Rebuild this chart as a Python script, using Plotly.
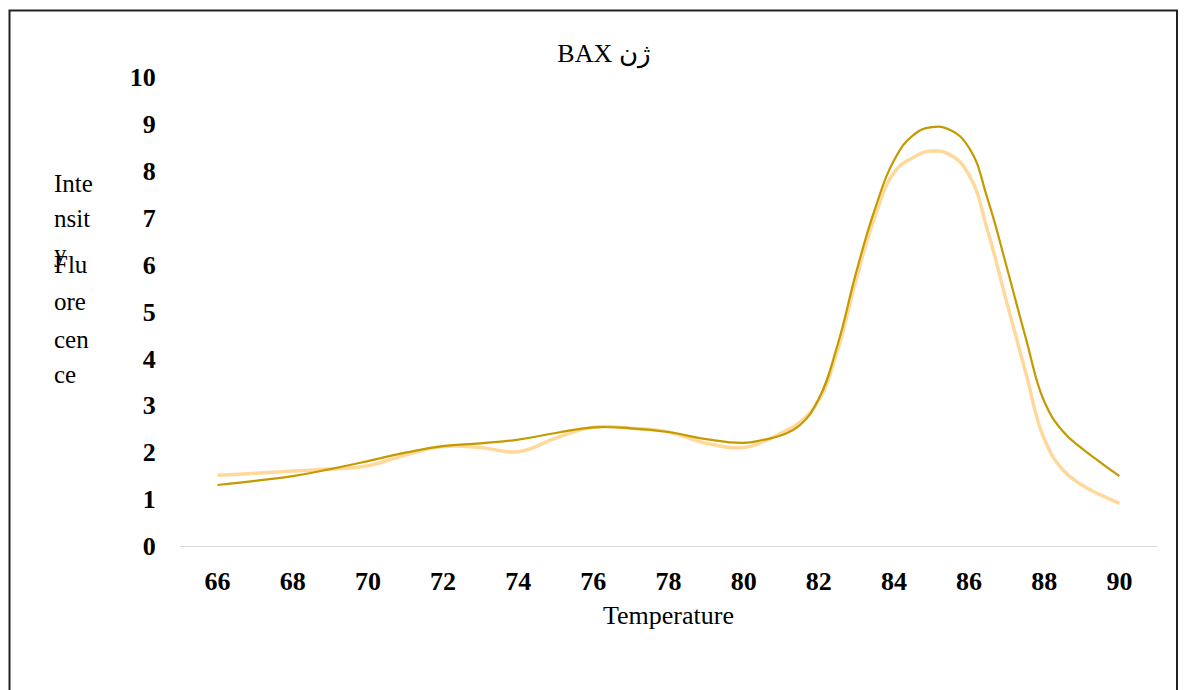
import plotly.graph_objects as go

# ---- data ----
temperature = [66, 67, 68, 69, 70, 71, 72, 73, 74, 75, 76, 77, 78, 79, 80,
               80.5, 81, 81.5, 82, 82.5, 83, 83.5, 84, 84.5, 85, 85.5, 86,
               86.5, 87, 87.5, 88, 88.5, 89, 89.5, 90]
series_dark = [1.30, 1.39, 1.49, 1.64, 1.81, 1.99, 2.13, 2.19, 2.27, 2.41, 2.53,
               2.51, 2.43, 2.28, 2.20,
               2.26, 2.36, 2.58, 3.14, 4.29, 5.85, 7.20, 8.22, 8.75, 8.93, 8.87, 8.49,
               7.38, 5.95, 4.46, 3.08, 2.44, 2.08, 1.78, 1.49]
series_light = [1.51, 1.55, 1.60, 1.64, 1.71, 1.94, 2.12, 2.10, 2.01, 2.30, 2.53,
                2.51, 2.43, 2.19, 2.10,
                2.22, 2.41, 2.64, 3.11, 4.18, 5.70, 7.04, 7.96, 8.28, 8.42, 8.34, 7.91,
                6.70, 5.20, 3.72, 2.28, 1.62, 1.30, 1.09, 0.91]
x_ticks = [66, 68, 70, 72, 74, 76, 78, 80, 82, 84, 86, 88, 90]
y_ticks = [0, 1, 2, 3, 4, 5, 6, 7, 8, 9, 10]
title_text = "BAX ژن"
x_title = "Temperature"
y_title_lines_a = ["Inte", "nsit", "y"]
y_title_lines_b = ["Flu", "ore", "cen", "ce"]

W, H = 1186, 690
ML, MR, MT, MB = 180, 29, 77, 144
PW, PH = W - ML - MR, H - MT - MB

def px(xp):
    return (xp - ML) / PW

def py(yp):
    return (H - MB - yp) / PH

SERIF = "Liberation Serif, Times New Roman, serif"

fig = go.Figure()
fig.add_trace(go.Scatter(x=temperature, y=series_light, mode="lines",
                         line=dict(color="#FFD89C", width=3.5, shape="spline",
                                   smoothing=1.3),
                         showlegend=False))
fig.add_trace(go.Scatter(x=temperature, y=series_dark, mode="lines",
                         line=dict(color="#C49A00", width=2.2, shape="spline",
                                   smoothing=1.3),
                         showlegend=False))

fig.update_layout(
    width=W, height=H,
    margin=dict(l=ML, r=MR, t=MT, b=MB),
    paper_bgcolor="white", plot_bgcolor="white",
    font=dict(family=SERIF, size=26, color="black"),
    title=dict(text=title_text, x=604 / W, xanchor="center", xref="container",
               y=1 - 53 / H, yanchor="middle", yref="container",
               font=dict(family=SERIF, size=26, color="black")),
    xaxis=dict(range=[65, 91], tickvals=x_ticks, showgrid=False, zeroline=False,
               showline=True, linecolor="#D9D9D9", linewidth=1.2,
               ticks="outside", ticklen=12, tickcolor="rgba(0,0,0,0)",
               tickfont=dict(family=SERIF, size=26, color="black", weight="bold"),
               title=dict(text=x_title, standoff=10,
                          font=dict(family=SERIF, size=26, color="black"))),
    yaxis=dict(range=[0, 10], tickvals=y_ticks, showgrid=False, zeroline=False,
               showline=False, ticks="outside", ticklen=18,
               tickcolor="rgba(0,0,0,0)",
               tickfont=dict(family=SERIF, size=26, color="black", weight="bold")),
)

# y-axis title, wrapped as in the reference
ann = []
for txt, base in zip(y_title_lines_a, [192, 227, 262]):
    ann.append(dict(text=txt, xref="paper", yref="paper", x=px(52), y=py(base - 9),
                    xanchor="left", yanchor="middle", showarrow=False,
                    font=dict(family=SERIF, size=25, color="black")))
for txt, base in zip(y_title_lines_b, [273, 310, 348, 383]):
    ann.append(dict(text=txt, xref="paper", yref="paper", x=px(52), y=py(base - 9),
                    xanchor="left", yanchor="middle", showarrow=False,
                    font=dict(family=SERIF, size=25, color="black")))
fig.update_layout(annotations=ann)

# outer border
fig.add_shape(type="rect", xref="paper", yref="paper",
              x0=px(9.5), x1=px(1177), y0=py(720), y1=py(10.5),
              line=dict(color="#222222", width=2), fillcolor="rgba(0,0,0,0)",
              layer="below")

fig.write_html("out.html")
